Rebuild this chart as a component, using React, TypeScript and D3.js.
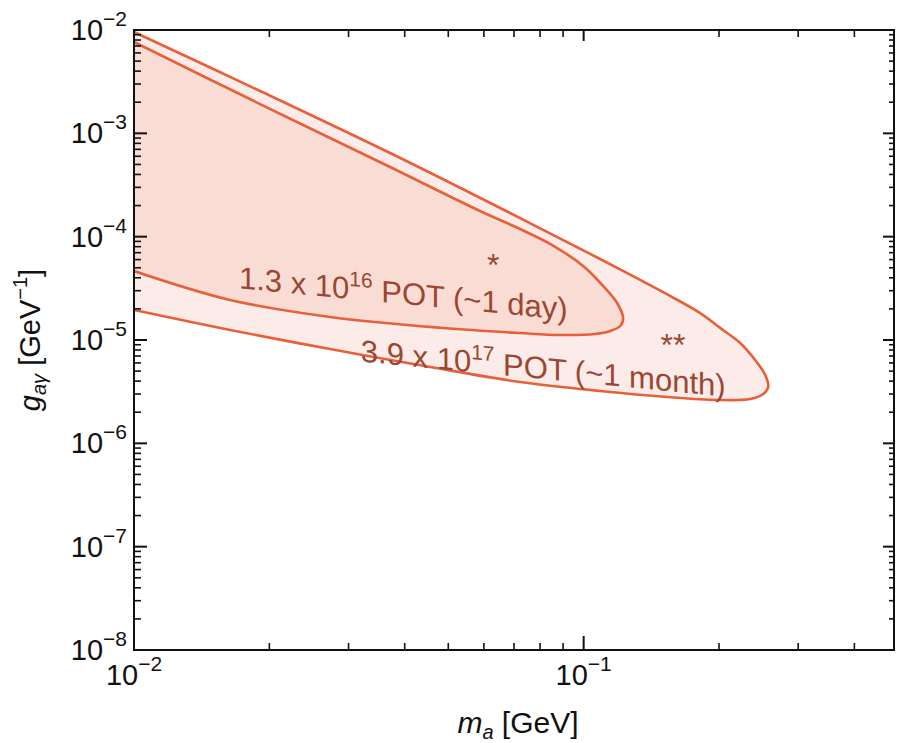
import React from 'react';
import * as d3 from 'd3';

// ---- data ----
const monthMass = [0.01, 0.01907, 0.03711, 0.06862, 0.1088, 0.1336, 0.1557, 0.1816, 0.2012, 0.2229, 0.2407, 0.2534, 0.2573, 0.2508, 0.2346, 0.1982, 0.1534, 0.1088, 0.0722, 0.0456, 0.02729, 0.01635, 0.01];
const monthCoupling = [9.56e-3, 2.57e-3, 6.45e-4, 1.694e-4, 6.08e-5, 3.81e-5, 2.67e-5, 1.82e-5, 1.31e-5, 9.35e-6, 6.4e-6, 4.58e-6, 3.51e-6, 3.0e-6, 2.69e-6, 2.63e-6, 2.81e-6, 3.21e-6, 3.92e-6, 5.48e-6, 8.18e-6, 1.249e-5, 1.95e-5];
const dayMass = [0.01, 0.01907, 0.03711, 0.0588, 0.0722, 0.0851, 0.09975, 0.111, 0.1187, 0.1224, 0.1206, 0.1146, 0.1061, 0.0887, 0.0722, 0.0487, 0.02729, 0.01635, 0.01];
const dayCoupling = [7.65e-3, 1.92e-3, 4.72e-4, 1.771e-4, 1.186e-4, 8.3e-5, 5.2e-5, 3.26e-5, 2.28e-5, 1.63e-5, 1.366e-5, 1.222e-5, 1.143e-5, 1.118e-5, 1.168e-5, 1.306e-5, 1.669e-5, 2.44e-5, 4.65e-5];

const yTickExps = [-2, -3, -4, -5, -6, -7, -8];
const xTickExps = [-2, -1];
const xMinorTicks = [0.02, 0.03, 0.04, 0.05, 0.06, 0.07, 0.08, 0.09, 0.2, 0.3, 0.4];
const yMinorMantissas = [2, 3, 4, 5, 6, 7, 8, 9];

const dayLabel = { base: '1.3 x 10', exp: '16', rest: ' POT (~1 day)', m: 0.0397, g: 2.85e-5 };
const monthLabel = { base: '3.9 x 10', exp: '17', rest: ' POT (~1 month)', m: 0.0813, g: 5.36e-6 };
const starLabels = [
  { text: '*', m: 0.0629, g: 6.2e-5 },
  { text: '**', m: 0.158, g: 1.05e-5 },
];

// ---- layout ----
const W = 897;
const H = 743;
const left = 134;
const right = 894;
const top = 30;
const bottom = 650;

const FONT = '"Liberation Sans", Arial, sans-serif';
const LINE = '#e8603a';
const FILL_DAY = '#f9dcd4';
const FILL_MONTH = '#fcece9';
const LABEL = '#9b4632';

export default function App() {
  const x = d3.scaleLog().domain([0.01, 0.49]).range([left, right]);
  const y = d3.scaleLog().domain([1e-8, 1e-2]).range([bottom, top]);

  const toPts = (ms: number[], gs: number[]) => ms.map((m, i) => [x(m), y(gs[i])] as [number, number]);
  const line = d3.line().curve(d3.curveCatmullRom.alpha(0.5));
  const monthPts = toPts(monthMass, monthCoupling);
  const dayPts = toPts(dayMass, dayCoupling);
  const monthPath = line(monthPts) as string;
  const dayPath = line(dayPts) as string;

  const yMinor: number[] = [];
  for (let e = -8; e < -2; e++) yMinorMantissas.forEach((k) => yMinor.push(k * Math.pow(10, e)));

  const regionText = (lab: typeof dayLabel) => {
    const cx = x(lab.m);
    const cy = y(lab.g);
    return (
      <g transform={`translate(${cx} ${cy}) skewY(5.5)`}>
        <text x={0} y={11} textAnchor="middle" fontFamily={FONT} fontSize={31} fill={LABEL}>
          <tspan>{lab.base}</tspan>
          <tspan dy={-13} fontSize={21}>{lab.exp}</tspan>
          <tspan dy={13}>{lab.rest}</tspan>
        </text>
      </g>
    );
  };

  return (
    <svg width={W} height={H} style={{ position: 'absolute', left: 0, top: 0, background: '#fff' }}>
      <defs>
        <clipPath id="plotclip">
          <rect x={left} y={top} width={right - left} height={bottom - top} />
        </clipPath>
      </defs>
      <g clipPath="url(#plotclip)">
        <path d={monthPath + 'Z'} fill={FILL_MONTH} stroke="none" />
        <path d={dayPath + 'Z'} fill={FILL_DAY} stroke="none" />
        <path d={monthPath} fill="none" stroke={LINE} strokeWidth={2.6} />
        <path d={dayPath} fill="none" stroke={LINE} strokeWidth={2.6} />
      </g>

      {regionText(dayLabel)}
      {regionText(monthLabel)}
      {starLabels.map((s, i) => (
        <text key={i} x={x(s.m)} y={y(s.g) + 18} textAnchor="middle" fontFamily={FONT} fontSize={32} fill={LABEL}>
          {s.text}
        </text>
      ))}

      {/* frame */}
      <rect x={left} y={top} width={right - left} height={bottom - top} fill="none" stroke="#111" strokeWidth={2} />

      {/* left & right ticks */}
      {yTickExps.map((e) => {
        const yy = y(Math.pow(10, e));
        return (
          <g key={'ym' + e}>
            <line x1={left} x2={left + 13} y1={yy} y2={yy} stroke="#111" strokeWidth={2} />
            <line x1={right} x2={right - 11} y1={yy} y2={yy} stroke="#111" strokeWidth={2} />
            <text x={127} y={yy + 10} textAnchor="end" fontFamily={FONT} fontSize={29} fill="#111">
              <tspan>10</tspan>
              <tspan dy={-14} fontSize={21}>{'\u2212' + String(-e)}</tspan>
            </text>
          </g>
        );
      })}
      {yMinor.map((v, i) => {
        const yy = y(v);
        return (
          <g key={'yn' + i}>
            <line x1={left} x2={left + 7} y1={yy} y2={yy} stroke="#111" strokeWidth={1.6} />
            <line x1={right} x2={right - 5} y1={yy} y2={yy} stroke="#111" strokeWidth={1.6} />
          </g>
        );
      })}

      {/* bottom & top ticks */}
      {xTickExps.map((e) => {
        const xx = x(Math.pow(10, e));
        return (
          <g key={'xm' + e}>
            <line x1={xx} x2={xx} y1={bottom} y2={bottom - 14} stroke="#111" strokeWidth={2} />
            <line x1={xx} x2={xx} y1={top} y2={top + 11} stroke="#111" strokeWidth={2} />
            <text x={xx} y={685} textAnchor="middle" fontFamily={FONT} fontSize={29} fill="#111">
              <tspan>10</tspan>
              <tspan dy={-14} fontSize={21}>{'\u2212' + String(-e)}</tspan>
            </text>
          </g>
        );
      })}
      {xMinorTicks.map((v, i) => {
        const xx = x(v);
        return (
          <g key={'xn' + i}>
            <line x1={xx} x2={xx} y1={bottom} y2={bottom - 7} stroke="#111" strokeWidth={1.6} />
            <line x1={xx} x2={xx} y1={top} y2={top + 7} stroke="#111" strokeWidth={1.6} />
          </g>
        );
      })}

      {/* axis titles */}
      <text x={518} y={733} textAnchor="middle" fontFamily={FONT} fontSize={30} fill="#111">
        <tspan fontStyle="italic">m</tspan>
        <tspan fontStyle="italic" fontSize={20} dy={6}>a</tspan>
        <tspan dy={-6}>{' [GeV]'}</tspan>
      </text>
      <text
        x={0}
        y={0}
        textAnchor="middle"
        fontFamily={FONT}
        fontSize={29}
        fill="#111"
        transform={`translate(40 ${340}) rotate(-90)`}
      >
        <tspan fontStyle="italic">g</tspan>
        <tspan fontStyle="italic" fontSize={20} dy={6}>{'a\u03b3'}</tspan>
        <tspan dy={-6}>{' [GeV'}</tspan>
        <tspan fontSize={20} dy={-13}>{'\u22121'}</tspan>
        <tspan dy={13}>]</tspan>
      </text>
    </svg>
  );
}
